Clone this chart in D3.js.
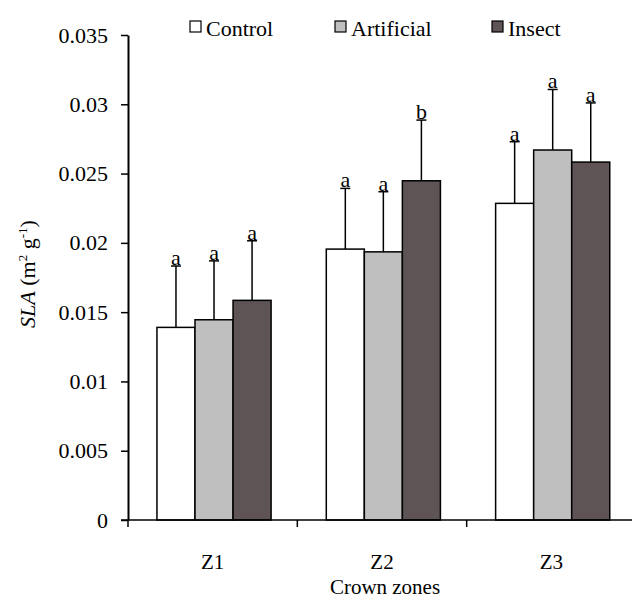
<!DOCTYPE html>
<html>
<head>
<meta charset="utf-8">
<style>
  body { margin: 0; background: #fff; }
  svg text { font-family: 'Liberation Serif', 'Times New Roman', serif; fill: #000; }
</style>
</head>
<body>
<script src="https://cdn.jsdelivr.net/npm/d3@7"></script>
<script>
// categories and series
var zones = ["Z1", "Z2", "Z3"];
var series = ["Control", "Artificial", "Insect"];
var colors = ["#ffffff", "#bfbfbf", "#5e5455"];

// mean SLA per zone (Control, Artificial, Insect)
var control    = [0.0139, 0.01955, 0.02285];
var artificial = [0.01445, 0.01935, 0.0267];
var insect     = [0.01585, 0.02448, 0.02583];

// upper end of error bars
var controlErr    = [0.01833, 0.02393, 0.0273];
var artificialErr = [0.0187, 0.02369, 0.03107];
var insectErr     = [0.02015, 0.02886, 0.0301];

// significance letters
var letters = [["a", "a", "a"], ["a", "a", "b"], ["a", "a", "a"]];

var yTicks = [0, 0.005, 0.01, 0.015, 0.02, 0.025, 0.03, 0.035];

var width = 632, height = 599;
var serif = "'Liberation Serif', 'Times New Roman', serif";
var fs = 22;

var svg = d3.select("body").append("svg")
    .attr("width", width)
    .attr("height", height)
    .attr("font-family", serif);

var x = d3.scaleBand()
    .domain(zones)
    .range([128, 636])
    .padding(0);

var bw = x.bandwidth();
var xs = d3.scaleBand()
    .domain(series)
    .range([bw * 0.171, bw * 0.845])
    .padding(0);

var y = d3.scaleLinear()
    .domain([0, 0.035])
    .range([520, 35]);

var vals = [control, artificial, insect];
var errs = [controlErr, artificialErr, insectErr];

var data = [];
zones.forEach(function(z, i) {
    series.forEach(function(s, j) {
        data.push({ zone: z, series: s, si: j, value: vals[j][i], err: errs[j][i], letter: letters[i][j] });
    });
});

function cx(d) { return x(d.zone) + xs(d.series) + xs.bandwidth() / 2; }

// error bars (drawn first so bars sit on top)
var eb = svg.append("g").selectAll("g")
    .data(data)
    .enter().append("g");

eb.append("line")
    .attr("x1", cx)
    .attr("x2", cx)
    .attr("y1", function(d) { return y(d.value); })
    .attr("y2", function(d) { return y(d.err); })
    .attr("stroke", "#000")
    .attr("stroke-width", 1.5);

eb.append("line")
    .attr("x1", function(d) { return cx(d) - 5; })
    .attr("x2", function(d) { return cx(d) + 5; })
    .attr("y1", function(d) { return y(d.err); })
    .attr("y2", function(d) { return y(d.err); })
    .attr("stroke", "#000")
    .attr("stroke-width", 1.5);

eb.append("text")
    .attr("x", cx)
    .attr("y", function(d) { return y(d.err) - 1; })
    .attr("text-anchor", "middle")
    .attr("font-size", fs)
    .text(function(d) { return d.letter; });

// bars
svg.append("g").selectAll("rect")
    .data(data)
    .enter().append("rect")
    .attr("x", function(d) { return x(d.zone) + xs(d.series); })
    .attr("width", xs.bandwidth())
    .attr("y", function(d) { return y(d.value); })
    .attr("height", function(d) { return y(0) - y(d.value); })
    .attr("fill", function(d) { return colors[d.si]; })
    .attr("stroke", "#000")
    .attr("stroke-width", 1.5);

// y axis
var yAxis = d3.axisLeft(y)
    .tickValues(yTicks)
    .tickSize(7)
    .tickSizeOuter(0)
    .tickPadding(13)
    .tickFormat(function(d) { return d === 0 ? "0" : String(+d.toFixed(3)); });

var gy = svg.append("g")
    .attr("transform", "translate(128,0)")
    .call(yAxis)
    .attr("font-family", serif)
    .attr("font-size", fs);
gy.select(".domain").attr("stroke-width", 2);
gy.selectAll(".tick line").attr("stroke-width", 1.5);
gy.selectAll(".tick text").attr("fill", "#000");

// x axis line and ticks at band edges
svg.append("line")
    .attr("x1", 121).attr("x2", width)
    .attr("y1", y(0)).attr("y2", y(0))
    .attr("stroke", "#000").attr("stroke-width", 1.5);

var edges = zones.map(function(z) { return x(z); });
svg.append("g").selectAll("line")
    .data(edges)
    .enter().append("line")
    .attr("x1", function(d) { return d; })
    .attr("x2", function(d) { return d; })
    .attr("y1", y(0))
    .attr("y2", y(0) + 7)
    .attr("stroke", "#000")
    .attr("stroke-width", 1.5);

svg.append("g").selectAll("text")
    .data(zones)
    .enter().append("text")
    .attr("x", function(d) { return x(d) + bw / 2; })
    .attr("y", 569)
    .attr("text-anchor", "middle")
    .attr("font-size", 21)
    .text(function(d) { return d; });

svg.append("text")
    .attr("x", 385)
    .attr("y", 594)
    .attr("text-anchor", "middle")
    .attr("font-size", 21)
    .text("Crown zones");

// y axis title
var yt = svg.append("text")
    .attr("transform", "translate(35,274) rotate(-90)")
    .attr("text-anchor", "middle")
    .attr("font-size", fs);
yt.append("tspan").attr("font-style", "italic").text("SLA");
yt.append("tspan").text(" (m");
yt.append("tspan").attr("dy", -8).attr("font-size", 13).text("2");
yt.append("tspan").attr("dy", 8).text(" g");
yt.append("tspan").attr("dy", -8).attr("font-size", 13).text("-1");
yt.append("tspan").attr("dy", 8).text(")");

// legend
var legendX = [190, 335, 492];
svg.append("g").selectAll("rect")
    .data(series)
    .enter().append("rect")
    .attr("x", function(d, i) { return legendX[i]; })
    .attr("y", 21)
    .attr("width", 11)
    .attr("height", 11)
    .attr("fill", function(d, i) { return colors[i]; })
    .attr("stroke", "#000")
    .attr("stroke-width", 1.2);

svg.append("g").selectAll("text")
    .data(series)
    .enter().append("text")
    .attr("x", function(d, i) { return legendX[i] + 16; })
    .attr("y", 36)
    .attr("font-size", fs)
    .text(function(d) { return d; });
</script>
</body>
</html>
